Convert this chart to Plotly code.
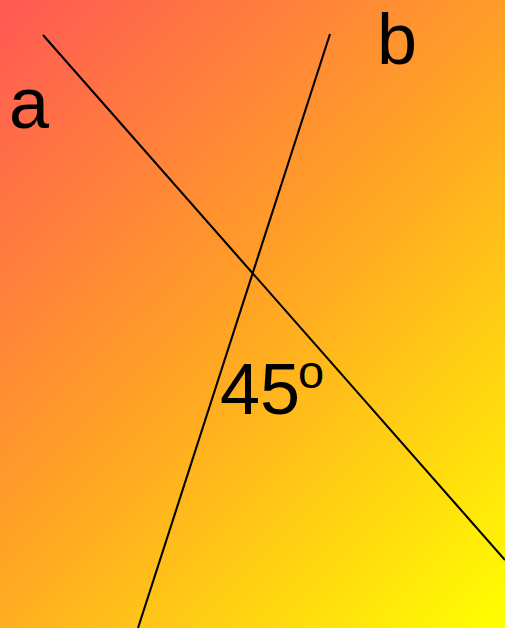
import numpy as np
import plotly.graph_objects as go

W, H = 505, 628

# Line endpoints (in picture coordinates, y downwards)
line_a_x = [43, 505]
line_a_y = [35, 560]
line_b_x = [330, 138]
line_b_y = [34, 628]

# Labels
label_text = ["a", "b", "45", "o"]
label_x = [29, 397, 260, 311]
label_y = [102, 38, 388, 371]

# Background gradient grid
gx = np.linspace(0, W, 60)
gy = np.linspace(0, H, 75)
GX, GY = np.meshgrid(gx, gy)
gz = GX + GY

fig = go.Figure()
fig.add_trace(go.Heatmap(
    x=gx, y=gy, z=gz, zsmooth="best", showscale=False, hoverinfo="skip",
    colorscale=[[0, "rgb(255,88,85)"], [0.5, "rgb(255,165,35)"], [1, "rgb(255,255,0)"]],
))
fig.add_trace(go.Scatter(x=line_a_x, y=line_a_y, mode="lines",
                         line=dict(color="black", width=2.1), hoverinfo="skip"))
fig.add_trace(go.Scatter(x=line_b_x, y=line_b_y, mode="lines",
                         line=dict(color="black", width=2.1), hoverinfo="skip"))

sizes = [72, 72, 72, 47]
for t, x, y, s in zip(label_text, label_x, label_y, sizes):
    fig.add_annotation(x=x, y=y, text=t, showarrow=False, xanchor="center", yanchor="middle",
                       height=int(s * 0.8),
                       font=dict(family="Liberation Sans, Arial", size=s, color="black"))

fig.update_layout(
    width=W, height=H, margin=dict(l=0, r=0, t=0, b=0),
    showlegend=False, plot_bgcolor="white", paper_bgcolor="white",
    xaxis=dict(range=[0, W], visible=False, fixedrange=True),
    yaxis=dict(range=[H, 0], visible=False, fixedrange=True),
)
fig.write_html("out.html", config={"displayModeBar": False},
               post_script="document.body.style.margin='0';document.body.style.overflow='hidden';")
